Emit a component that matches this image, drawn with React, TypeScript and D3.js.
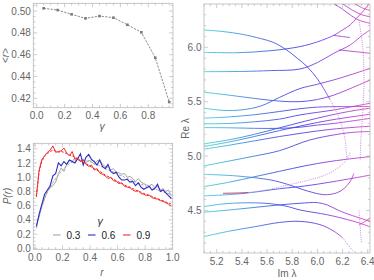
import React from 'react';
import * as d3 from 'd3';

// ---- top-left: <r> against gamma
const gammaVals = [0.05, 0.15, 0.25, 0.35, 0.45, 0.55, 0.65, 0.75, 0.85, 0.95];
const meanR = [0.5025, 0.5009, 0.497, 0.4933, 0.4954, 0.4939, 0.4874, 0.4805, 0.4572, 0.4166];
const gammaTicks = [0, 0.2, 0.4, 0.6, 0.8];
const meanRTicks = [0.42, 0.44, 0.46, 0.48, 0.5];

// ---- bottom-left: P(r)
const rBins = [
  0.01, 0.03, 0.05, 0.07, 0.09, 0.11, 0.13, 0.15, 0.17, 0.19,
  0.21, 0.23, 0.25, 0.27, 0.29, 0.31, 0.33, 0.35, 0.37, 0.39,
  0.41, 0.43, 0.45, 0.47, 0.49, 0.51, 0.53, 0.55, 0.57, 0.59,
  0.61, 0.63, 0.65, 0.67, 0.69, 0.71, 0.73, 0.75, 0.77, 0.79,
  0.81, 0.83, 0.85, 0.87, 0.89, 0.91, 0.93, 0.95, 0.97, 0.99,
];
const p03 = [
  0.3, 0.45, 0.6, 0.7, 0.8, 0.85, 0.88, 0.93, 1.05, 1.13,
  1.08, 1.18, 1.24, 1.22, 1.27, 1.25, 1.22, 1.26, 1.2, 1.24,
  1.22, 1.18, 1.23, 1.24, 1.18, 1.15, 1.14, 1.1, 1.12, 1.07,
  1.06, 1.04, 1.05, 1.0, 1.01, 0.98, 0.94, 0.98, 0.93, 0.91,
  0.89, 0.88, 0.9, 0.85, 0.87, 0.82, 0.84, 0.8, 0.82, 0.74,
];
const p03Fit = [
  0.28, 0.44, 0.58, 0.7, 0.79, 0.86, 0.92, 0.98, 1.03, 1.08,
  1.12, 1.16, 1.19, 1.21, 1.23, 1.24, 1.24, 1.24, 1.23, 1.22,
  1.21, 1.19, 1.18, 1.16, 1.14, 1.12, 1.1, 1.09, 1.07, 1.05,
  1.03, 1.02, 1.0, 0.98, 0.97, 0.95, 0.93, 0.92, 0.9, 0.89,
  0.87, 0.86, 0.85, 0.83, 0.82, 0.81, 0.79, 0.78, 0.77, 0.76,
];
const p06 = [
  0.31, 0.48, 0.62, 0.76, 0.82, 0.88, 1.02, 1.05, 1.2, 1.16,
  1.22, 1.18, 1.24, 1.22, 1.2, 1.26, 1.33, 1.17, 1.28, 1.32,
  1.25, 1.22, 1.17, 1.24, 1.15, 1.12, 1.18, 1.08, 1.05, 1.07,
  1.0, 0.96, 0.96, 0.97, 0.93, 0.94, 0.88, 0.92, 0.86, 0.83,
  0.85, 0.87, 0.82, 0.84, 0.9, 0.8, 0.82, 0.78, 0.74, 0.7,
];
const p09 = [
  0.72, 1.1, 1.25, 1.3, 1.35, 1.38, 1.44, 1.35, 1.36, 1.37,
  1.41, 1.34, 1.3, 1.36, 1.25, 1.27, 1.22, 1.24, 1.18, 1.15,
  1.17, 1.1, 1.12, 1.06, 1.04, 1.02, 0.98, 1.0, 0.95, 0.94,
  0.91, 0.92, 0.87, 0.86, 0.85, 0.82, 0.8, 0.81, 0.77, 0.76,
  0.74, 0.75, 0.71, 0.7, 0.69, 0.67, 0.66, 0.64, 0.62, 0.59,
];
const p09Fit = [
  0.74, 1.08, 1.22, 1.3, 1.33, 1.36, 1.38, 1.37, 1.35, 1.36,
  1.35, 1.33, 1.31, 1.3, 1.28, 1.26, 1.23, 1.21, 1.19, 1.17,
  1.14, 1.12, 1.1, 1.08, 1.06, 1.03, 1.01, 0.99, 0.97, 0.95,
  0.93, 0.91, 0.89, 0.87, 0.86, 0.84, 0.82, 0.8, 0.79, 0.77,
  0.76, 0.74, 0.73, 0.71, 0.7, 0.68, 0.67, 0.65, 0.64, 0.62,
];
const rTicks = [0, 0.2, 0.4, 0.6, 0.8, 1.0];
const pTicks = [0, 0.2, 0.4, 0.6, 0.8, 1.0, 1.2, 1.4];
const legendLabels = ['0.3', '0.6', '0.9'];
const legendColors = ['#a6a6a6', '#2b2bc4', '#f02a2a'];

// ---- right: eigenvalue trajectories [Im, Re]
type Pt = [number, number];
const trajectories: Pt[][] = [
  [[5.1, 6.159], [5.25, 6.145], [5.4, 6.12], [5.55, 6.08], [5.65, 6.045], [5.75, 5.98], [5.84, 5.9], [5.92, 5.82], [6.0, 5.71], [6.05, 5.62], [6.1, 5.52]],
  [[5.1, 5.954], [5.36, 5.95], [5.63, 5.969], [5.86, 6.006], [6.0, 6.05], [6.13, 6.11], [6.2, 6.16], [6.26, 6.205], [6.31, 6.266], [6.36, 6.327], [6.41, 6.4]],
  [[5.1, 5.776], [5.4, 5.778], [5.63, 5.786], [5.86, 5.8], [6.0, 5.86], [6.13, 5.945], [6.26, 6.021], [6.36, 6.113], [6.42, 6.16]],
  [[5.1, 5.587], [5.3, 5.56], [5.5, 5.53], [5.7, 5.505], [5.86, 5.5], [6.0, 5.52], [6.13, 5.56], [6.26, 5.62], [6.42, 5.7]],
  [[5.1, 5.44], [5.25, 5.42], [5.4, 5.425], [5.55, 5.46], [5.7, 5.54], [5.86, 5.62], [6.0, 5.66], [6.13, 5.7], [6.26, 5.746], [6.42, 5.807]],
  [[5.1, 5.349], [5.3, 5.36], [5.5, 5.38], [5.7, 5.41], [5.86, 5.435], [6.0, 5.45], [6.2, 5.455], [6.42, 5.455]],
  [[5.1, 5.296], [5.3, 5.3], [5.5, 5.315], [5.7, 5.34], [5.86, 5.378], [6.13, 5.424], [6.42, 5.486]],
  [[5.1, 5.262], [5.3, 5.26], [5.5, 5.255], [5.7, 5.255], [5.86, 5.265], [6.0, 5.285], [6.13, 5.3], [6.42, 5.347]],
  [[5.1, 5.113], [5.3, 5.15], [5.5, 5.2], [5.7, 5.26], [5.9, 5.32], [6.1, 5.375], [6.3, 5.42], [6.42, 5.44]],
  [[5.1, 5.088], [5.3, 5.13], [5.5, 5.18], [5.7, 5.235], [5.9, 5.285], [6.1, 5.33], [6.3, 5.365], [6.42, 5.385]],
  [[5.1, 5.064], [5.3, 5.1], [5.5, 5.14], [5.7, 5.18], [5.9, 5.215], [6.1, 5.245], [6.3, 5.265], [6.42, 5.275]],
  [[5.1, 4.91], [5.3, 4.955], [5.5, 5.0], [5.7, 5.05], [5.94, 5.148], [6.16, 5.2], [6.3, 5.22], [6.42, 5.225]],
  [[5.1, 4.832], [5.36, 4.817], [5.63, 4.78], [5.76, 4.741], [5.89, 4.69], [6.02, 4.65], [6.08, 4.645], [6.16, 4.665], [6.21, 4.7], [6.26, 4.765], [6.29, 4.84]],
  [[5.1, 4.72], [5.3, 4.76], [5.5, 4.81], [5.7, 4.86], [5.9, 4.91], [6.1, 4.95], [6.3, 4.98], [6.42, 4.995]],
  [[5.1, 4.634], [5.4, 4.655], [5.7, 4.7], [5.9, 4.725], [6.1, 4.76], [6.3, 4.8], [6.42, 4.825]],
  [[5.1, 4.536], [5.25, 4.56], [5.4, 4.57], [5.6, 4.565], [5.75, 4.54], [5.86, 4.505], [6.08, 4.46], [6.29, 4.4], [6.42, 4.35]],
  [[5.1, 4.484], [5.35, 4.51], [5.6, 4.54], [5.86, 4.566], [6.0, 4.572], [6.08, 4.55], [6.17, 4.5], [6.26, 4.46], [6.42, 4.4]],
  [[5.1, 4.26], [5.3, 4.31], [5.5, 4.35], [5.7, 4.39], [5.86, 4.4], [6.02, 4.37], [6.13, 4.31], [6.2, 4.25]],
  [[6.13, 6.4], [6.2, 6.35], [6.27, 6.29], [6.33, 6.25], [6.42, 6.22]],
  [[6.2, 6.4], [6.28, 6.34], [6.35, 6.3], [6.42, 6.28]],
  [[6.3, 6.4], [6.36, 6.36], [6.42, 6.34]],
  [[6.126, 6.11], [6.19, 6.1], [6.259, 6.09]],
  [[6.17, 5.976], [6.3, 5.96], [6.42, 5.945]],
  [[6.33, 4.366], [6.38, 4.4], [6.43, 4.44]],
];
const dottedTrajectories: Pt[][] = [
  [[6.1, 5.52], [6.156, 5.394], [6.195, 5.272], [6.221, 5.15], [6.23, 5.03], [6.235, 4.96]],
  [[5.45, 4.665], [5.6, 4.69], [5.75, 4.73], [5.9, 4.77], [6.05, 4.82], [6.15, 4.88], [6.22, 4.95], [6.26, 5.03]],
  [[6.33, 6.25], [6.36, 6.0], [6.37, 5.7], [6.36, 5.4], [6.345, 5.15], [6.34, 4.96]],
  [[6.33, 4.5], [6.34, 4.35], [6.35, 4.2]],
  [[6.2, 4.25], [6.24, 4.19], [6.28, 4.13]],
];
const redStub: Pt[] = [[5.25, 4.658], [5.35, 4.66], [5.45, 4.665]];
const imTicks = [5.2, 5.4, 5.6, 5.8, 6.0, 6.2, 6.4];
const reTicks = [4.5, 5.0, 5.5, 6.0];
const colorStops = [5.1, 5.35, 5.6, 5.85, 6.05, 6.25, 6.42];
const stopColors = ['#3fd0cc', '#3f9edc', '#3f62e0', '#4742e0', '#7c40dc', '#b23ed2', '#d942b6'];

const frameColor = '#b8b8b8';
const labelColor = '#666';
const font = 'Liberation Sans, Arial, sans-serif';

interface FrameProps {
  x: d3.ScaleLinear<number, number>;
  y: d3.ScaleLinear<number, number>;
  xMajor: number[];
  xMinorStep: number;
  yMajor: number[];
  yMinorStep: number;
  xFmt: (v: number) => string;
  yFmt: (v: number) => string;
}

const Frame: React.FC<FrameProps> = ({ x, y, xMajor, xMinorStep, yMajor, yMinorStep, xFmt, yFmt }) => {
  const [xl, xr] = x.range();
  const [yb, yt] = y.range();
  const [dx0, dx1] = x.domain();
  const [dy0, dy1] = y.domain();
  const xMinor = d3.range(Math.ceil(dx0 / xMinorStep) * xMinorStep, dx1, xMinorStep);
  const yMinor = d3.range(Math.ceil(dy0 / yMinorStep) * yMinorStep, dy1, yMinorStep);
  const isMajor = (v: number, list: number[]) => list.some(m => Math.abs(m - v) < 1e-6);
  return (
    <g>
      <rect x={xl} y={yt} width={xr - xl} height={yb - yt} fill="none" stroke={frameColor} strokeWidth={0.8} />
      {xMinor.map((v, i) => {
        const len = isMajor(v, xMajor) ? 4 : 2.2;
        const px = x(v);
        return (
          <g key={'xm' + i} stroke={frameColor} strokeWidth={0.7}>
            <line x1={px} x2={px} y1={yb} y2={yb - len} />
            <line x1={px} x2={px} y1={yt} y2={yt + len} />
          </g>
        );
      })}
      {yMinor.map((v, i) => {
        const len = isMajor(v, yMajor) ? 4 : 2.2;
        const py = y(v);
        return (
          <g key={'ym' + i} stroke={frameColor} strokeWidth={0.7}>
            <line x1={xl} x2={xl + len} y1={py} y2={py} />
            <line x1={xr} x2={xr - len} y1={py} y2={py} />
          </g>
        );
      })}
      {xMajor.map(v => (
        <text key={'xl' + v} x={x(v)} y={yb + 11.5} textAnchor="middle" fontSize={10} fill={labelColor} fontFamily={font}>
          {xFmt(v)}
        </text>
      ))}
      {yMajor.map(v => (
        <text key={'yl' + v} x={xl - 2.5} y={y(v) + 3.6} textAnchor="end" fontSize={10} fill={labelColor} fontFamily={font}>
          {yFmt(v)}
        </text>
      ))}
    </g>
  );
};

const App: React.FC = () => {
  // top-left scales
  const xG = d3.scaleLinear().domain([-0.0244, 0.977]).range([33.3, 173]);
  const yG = d3.scaleLinear().domain([0.4114, 0.5071]).range([107.7, 3.3]);
  // bottom-left scales
  const xR = d3.scaleLinear().domain([-0.0123, 1.0]).range([33.3, 172.7]);
  const yP = d3.scaleLinear().domain([-0.014, 1.476]).range([249.3, 143.3]);
  // right scales
  const xI = d3.scaleLinear().domain([5.099, 6.418]).range([204, 370]);
  const yRe = d3.scaleLinear().domain([4.109, 6.398]).range([253, 4]);

  const meanLine = d3.line<number>().x((_, i) => xG(gammaVals[i])).y(d => yG(d));
  const pLine = d3.line<number>().x((_, i) => xR(rBins[i])).y(d => yP(d));
  const trajLine = d3.line<Pt>().x(d => xI(d[0])).y(d => yRe(d[1])).curve(d3.curveCatmullRom.alpha(0.5));

  const f1 = d3.format('.1f');
  const f2 = d3.format('.2f');

  return (
    <svg width={374} height={280} style={{ position: 'absolute', left: 0, top: 0, background: '#fff' }}>
      <defs>
        <linearGradient id="imGrad" gradientUnits="userSpaceOnUse" x1={xI(5.1)} x2={xI(6.42)} y1={0} y2={0}>
          {colorStops.map((s, i) => (
            <stop key={s} offset={(s - 5.1) / (6.42 - 5.1)} stopColor={stopColors[i]} />
          ))}
        </linearGradient>
        <clipPath id="rightClip">
          <rect x={204} y={4} width={166} height={249} />
        </clipPath>
        <clipPath id="plClip">
          <rect x={33.3} y={143.3} width={139.4} height={106} />
        </clipPath>
      </defs>

      {/* top-left */}
      <Frame x={xG} y={yG} xMajor={gammaTicks} xMinorStep={0.05} yMajor={meanRTicks} yMinorStep={0.005} xFmt={f1} yFmt={f2} />
      <path d={meanLine(meanR) ?? ''} fill="none" stroke="#7a7a7a" strokeWidth={0.9} strokeDasharray="2.2,1.3" />
      {meanR.map((v, i) => (
        <rect key={i} x={xG(gammaVals[i]) - 1.3} y={yG(v) - 1.3} width={2.6} height={2.6} fill="#7a7a7a" />
      ))}
      <text x={9} y={55.5} transform="rotate(-90 9 55.5)" textAnchor="middle" fontSize={10} fill={labelColor} fontFamily={font}>
        {'<'}<tspan fontStyle="italic">r</tspan>{'>'}
      </text>
      <text x={102} y={130} textAnchor="middle" fontSize={10.5} fill={labelColor} fontFamily={font} fontStyle="italic">γ</text>

      {/* bottom-left */}
      <Frame x={xR} y={yP} xMajor={rTicks} xMinorStep={0.05} yMajor={pTicks} yMinorStep={0.05} xFmt={f1} yFmt={f1} />
      <g clipPath="url(#plClip)" fill="none" strokeWidth={1}>
        <path d={pLine(p03Fit) ?? ''} stroke={legendColors[0]} strokeDasharray="2.5,1.5" />
        <path d={pLine(p03) ?? ''} stroke={legendColors[0]} />
        <path d={pLine(p06) ?? ''} stroke={legendColors[1]} strokeWidth={1.1} />
        <path d={pLine(p09Fit) ?? ''} stroke={legendColors[2]} strokeDasharray="2.5,1.5" />
        <path d={pLine(p09) ?? ''} stroke={legendColors[2]} />
      </g>
      <text x={11} y={196} transform="rotate(-90 11 196)" textAnchor="middle" fontSize={10} fill={labelColor} fontFamily={font} fontStyle="italic">
        P(r)
      </text>
      <text x={102} y={275.5} textAnchor="middle" fontSize={10} fill={labelColor} fontFamily={font} fontStyle="italic">r</text>
      <text x={100} y={224.5} textAnchor="middle" fontSize={10.5} fill="#333" fontFamily={font} fontStyle="italic">γ</text>
      {legendLabels.map((lab, i) => {
        const lx = 53 + i * 35;
        return (
          <g key={lab}>
            <line x1={lx} x2={lx + 7.5} y1={235} y2={235} stroke={legendColors[i]} strokeWidth={1.1} />
            <text x={lx + 13.5} y={238.6} fontSize={10} fill="#222" fontFamily={font}>{lab}</text>
          </g>
        );
      })}

      {/* right */}
      <Frame x={xI} y={yRe} xMajor={imTicks} xMinorStep={0.05} yMajor={reTicks} yMinorStep={0.1} xFmt={f1} yFmt={f1} />
      <g clipPath="url(#rightClip)" fill="none">
        {trajectories.map((t, i) => (
          <path key={'t' + i} d={trajLine(t) ?? ''} stroke="url(#imGrad)" strokeWidth={0.9} />
        ))}
        {dottedTrajectories.map((t, i) => (
          <path key={'d' + i} d={trajLine(t) ?? ''} stroke="#c98ae6" strokeWidth={1} strokeDasharray="1,1.2" />
        ))}
        <path d={trajLine(redStub) ?? ''} stroke="#c8286a" strokeWidth={0.9} />
      </g>
      <text x={189} y={128.5} transform="rotate(-90 189 128.5)" textAnchor="middle" fontSize={10} fill={labelColor} fontFamily={font}>
        Re λ
      </text>
      <text x={287} y={276.5} textAnchor="middle" fontSize={10} fill={labelColor} fontFamily={font}>Im λ</text>
    </svg>
  );
};

export default App;
